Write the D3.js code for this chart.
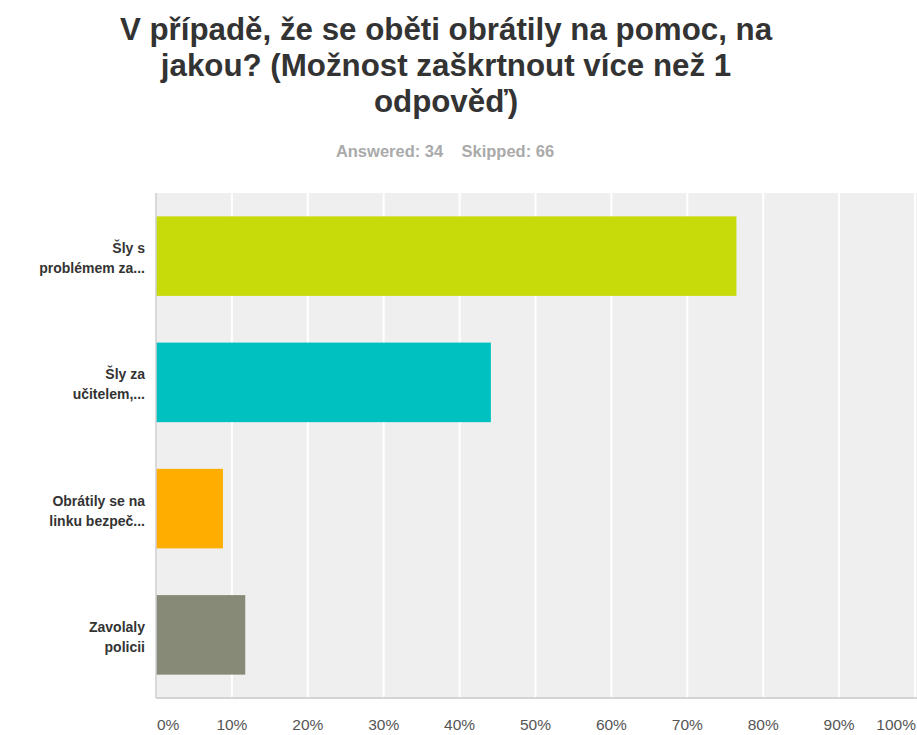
<!DOCTYPE html>
<html><head><meta charset="utf-8">
<script src="https://cdn.jsdelivr.net/npm/d3@7"></script>
<style>body{margin:0;background:#fff;}svg{display:block;font-family:"Liberation Sans",Arial,sans-serif;}</style>
</head><body>
<svg id="c" width="917" height="735"></svg>
<script>
const titleLines = ["V případě, že se oběti obrátily na pomoc, na", "jakou? (Možnost zaškrtnout více než 1", "odpověď)"];
const subtitle = "Answered: 34    Skipped: 66";
const categories = [["Šly s", "problémem za..."], ["Šly za", "učitelem,..."], ["Obrátily se na", "linku bezpeč..."], ["Zavolaly", "policii"]];
const values = [76.47, 44.12, 8.82, 11.76];
const colors = ["#c7db0a", "#00c0c0", "#ffae00", "#888a78"];
const ticks = [0, 10, 20, 30, 40, 50, 60, 70, 80, 90, 100];

const svg = d3.select("#c");
const L = 156, R = 915, T = 193, B = 698;
const x = d3.scaleLinear().domain([0, 100]).range([L, R]);
const y = d3.scaleBand().domain(d3.range(categories.length)).range([T, B]).paddingInner(0.37).paddingOuter(0.185);

svg.append("g").selectAll("text").data(titleLines).join("text")
  .attr("x", 446).attr("y", (d, i) => 40 + i * 36)
  .attr("text-anchor", "middle").attr("font-size", 31.3).attr("font-weight", "bold").attr("fill", "#333")
  .text(d => d);
svg.append("text").attr("x", 445).attr("y", 157).attr("text-anchor", "middle")
  .attr("font-size", 16.5).attr("font-weight", "bold").attr("fill", "#aaa").attr("xml:space", "preserve")
  .text(subtitle);

svg.append("rect").attr("x", L).attr("y", T).attr("width", R - L + 2).attr("height", B - T).attr("fill", "#efefef");
svg.append("g").selectAll("line").data(ticks.slice(1)).join("line")
  .attr("x1", d => x(d)).attr("x2", d => x(d)).attr("y1", T).attr("y2", B)
  .attr("stroke", "#fff").attr("stroke-width", 2);

svg.append("g").selectAll("rect").data(values).join("rect")
  .attr("x", x(0)).attr("y", (d, i) => y(i)).attr("width", d => x(d) - x(0)).attr("height", y.bandwidth())
  .attr("fill", (d, i) => colors[i]);

svg.append("line").attr("x1", L).attr("x2", L).attr("y1", T).attr("y2", B).attr("stroke", "#cfcfcf").attr("stroke-width", 1.5);
svg.append("line").attr("x1", L).attr("x2", R + 2).attr("y1", B).attr("y2", B).attr("stroke", "#d4d4d4").attr("stroke-width", 2);

const yl = svg.append("g").selectAll("text").data(categories).join("text")
  .attr("text-anchor", "end").attr("font-size", 14).attr("font-weight", "bold").attr("fill", "#333");
yl.each(function(d, i) {
  const cy = y(i) + y.bandwidth() / 2;
  d3.select(this).selectAll("tspan").data(d).join("tspan")
    .attr("x", 145).attr("y", (t, j) => cy - 3 + j * 20).text(t => t);
});

svg.append("g").selectAll("text").data(ticks).join("text")
  .attr("x", d => d === 0 ? 157 : d === 100 ? 916 : x(d)).attr("y", 730)
  .attr("text-anchor", d => d === 0 ? "start" : d === 100 ? "end" : "middle")
  .attr("font-size", 15.5).attr("fill", "#555").text(d => d + "%");
</script>
</body></html>
